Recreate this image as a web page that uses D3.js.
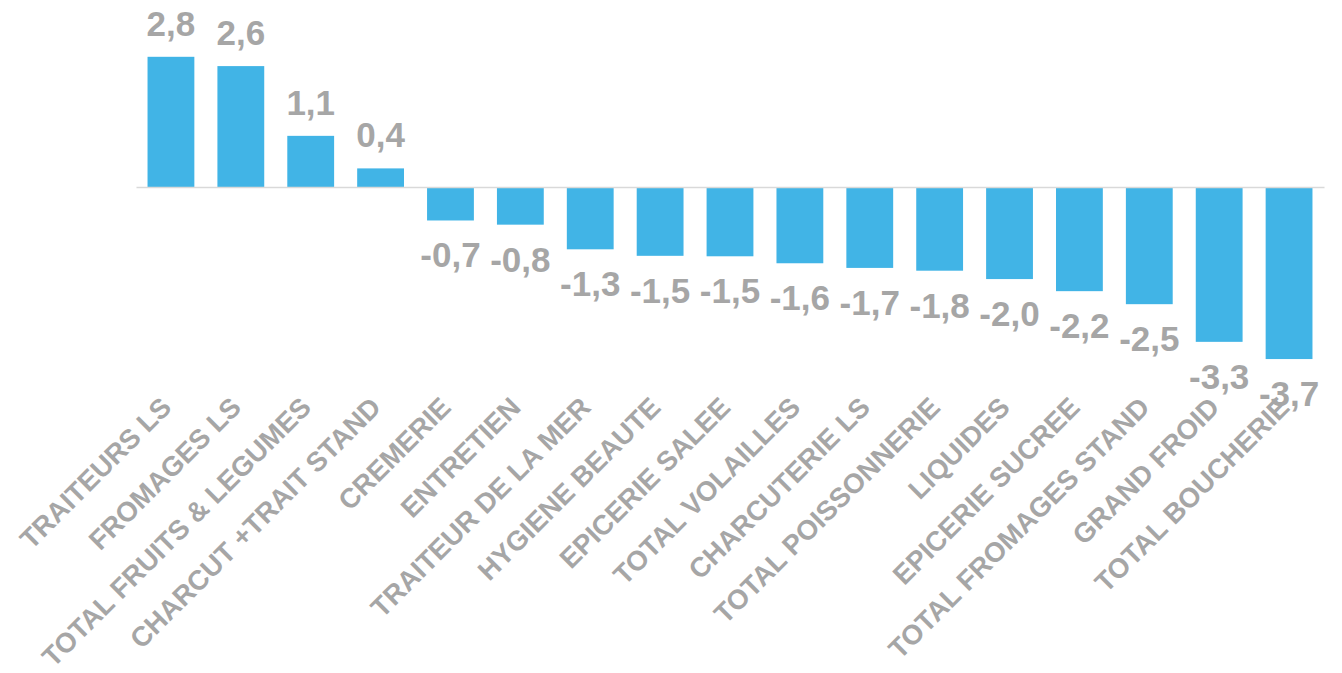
<!DOCTYPE html>
<html>
<head>
<meta charset="utf-8">
<script src="https://cdn.jsdelivr.net/npm/d3@7"></script>
<style>
    body { margin: 0; background: #fff; }
    svg text { font-family: Arial, "Liberation Sans", sans-serif; font-weight: bold; fill: #a6a6a6; }
</style>
</head>
<body>
<div id="chart"></div>
<script>
// chart data (bars, labels show one decimal)
const categories = [
    "TRAITEURS LS", "FROMAGES LS", "TOTAL FRUITS & LEGUMES", "CHARCUT +TRAIT STAND",
    "CREMERIE", "ENTRETIEN", "TRAITEUR DE LA MER", "HYGIENE BEAUTE", "EPICERIE SALEE",
    "TOTAL VOLAILLES", "CHARCUTERIE LS", "TOTAL POISSONNERIE", "LIQUIDES",
    "EPICERIE SUCREE", "TOTAL FROMAGES STAND", "GRAND FROID", "TOTAL BOUCHERIE"
]
const values = [2.8, 2.6, 1.1, 0.4, -0.72, -0.81, -1.34, -1.48, -1.49, -1.64, -1.74, -1.8, -1.98, -2.24, -2.52, -3.33, -3.7]
const yDomain = [-4, 3]

class DeltaBars {
    constructor(div) {
        this.div = div
        this.width = 1342
        this.height = 673
        this.margin = { left: 136, right: 18, top: 48, bottom: 300 }
        this.initSvg()
        this.draw_bars()
        this.draw_axis()
        this.draw_values()
    }
    initSvg() {
        this.svg = d3.select(this.div).append("svg")
            .attr("width", this.width)
            .attr("height", this.height)
        this.x = d3.scaleBand()
            .domain(categories)
            .range([this.margin.left, this.width - this.margin.right])
            .paddingInner(0.33)
            .paddingOuter(0.165)
        // ~46.5 px per unit, zero at y=187
        this.y = d3.scaleLinear()
            .domain(yDomain)
            .range([187 + 4 * 46.5, 187 - 3 * 46.5])
        this.fmt = d3.formatLocale({ decimal: ",", thousands: " ", grouping: [3], currency: ["", "€"], minus: "-" }).format(".1f")
    }
    draw_bars() {
        this.svg.append("g").selectAll("rect")
            .data(values)
            .join("rect")
            .attr("x", (d, i) => this.x(categories[i]))
            .attr("width", this.x.bandwidth())
            .attr("y", d => this.y(Math.max(0, d)))
            .attr("height", d => Math.abs(this.y(d) - this.y(0)))
            .attr("fill", "#41b4e6")
    }
    draw_axis() {
        const y0 = this.y(0)
        const axis = this.svg.append("g")
            .attr("transform", `translate(0,${y0})`)
            .call(d3.axisBottom(this.x).tickSize(0).tickSizeOuter(0))
        axis.select(".domain").attr("stroke", "#d9d9d9").attr("stroke-width", 1.5)
        axis.selectAll(".tick text")
            .attr("x", 0).attr("y", 0).attr("dy", 0)
            .attr("transform", `translate(2,${409 - y0}) rotate(-45)`)
            .attr("text-anchor", "end")
            .attr("font-size", 27.5)
            .attr("font-family", null)
            .attr("fill", "#a6a6a6")
    }
    draw_values() {
        this.svg.append("g").selectAll("text")
            .data(values)
            .join("text")
            .attr("x", (d, i) => this.x(categories[i]) + this.x.bandwidth() / 2)
            .attr("y", d => d >= 0 ? this.y(d) - 21 : this.y(d) + 47)
            .attr("text-anchor", "middle")
            .attr("font-size", 35)
            .text(d => this.fmt(d))
    }
}

new DeltaBars(document.getElementById("chart"))
</script>
</body>
</html>
